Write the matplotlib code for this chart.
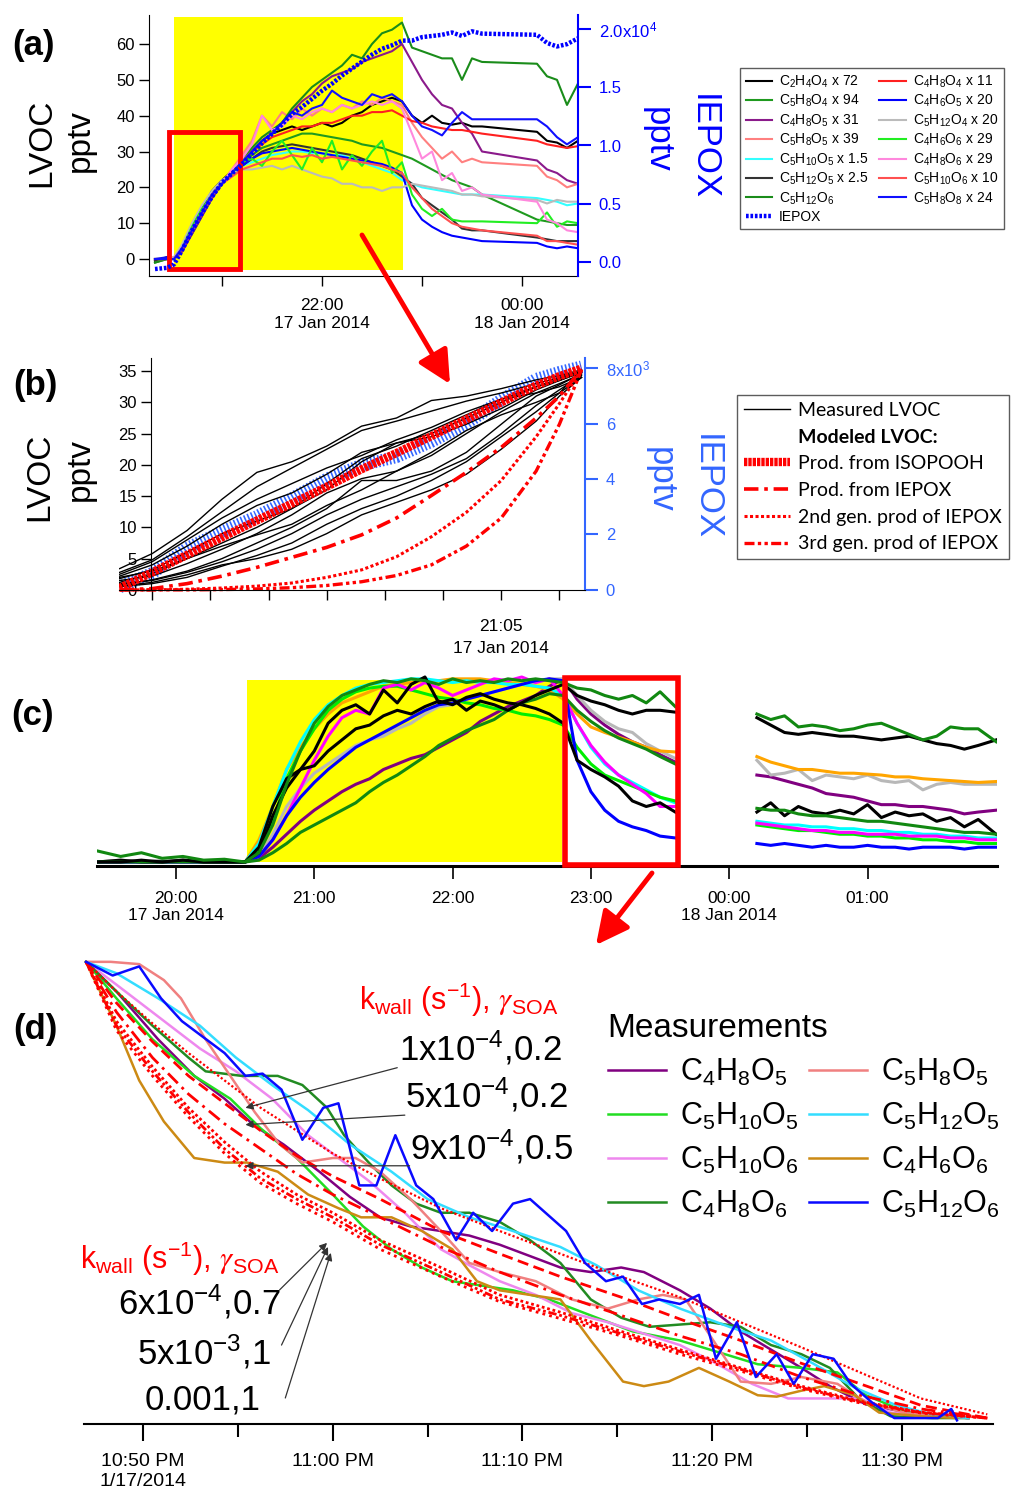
import matplotlib.pyplot as plt
from matplotlib.lines import Line2D
from matplotlib.patches import Rectangle, FancyArrowPatch

plt.rcParams['font.family'] = ['Liberation Sans', 'DejaVu Sans']
plt.rcParams['mathtext.default'] = 'regular'
plt.rcParams['mathtext.fontset'] = 'stix'

W, H = 1021, 1491

# ---------------- (a) full experiment, hours since 17 Jan 00:00 ----------------
t_a = [20.33, 20.45, 20.52, 20.6, 20.7, 20.8, 20.9, 21.0, 21.1, 21.2,
       21.3, 21.4, 21.5, 21.6, 21.7, 21.8, 21.9, 22.0, 22.1, 22.2, 22.3, 22.4,
       22.5, 22.6, 22.7, 22.8, 22.9, 23.0, 23.1, 23.2, 23.3, 23.4, 23.5, 23.6,
       24.15, 24.25, 24.35, 24.45, 24.56]
C2H4O4 = [-0.5, 0.5, 0, 3.5, 9, 14, 19, 22, 24.5, 27,
          30, 33, 35, 36, 37, 36, 37, 38, 37, 38, 40, 41, 43, 44, 45, 44, 40, 38, 40, 38, 37.5, 38, 37, 37,
          35.5, 33, 32.5, 31, 33]
C4H8O4 = [0, 0, 0.5, 3, 8, 13, 18, 21, 24, 27,
          30, 32, 34, 35, 36, 37, 37, 38, 38, 39, 40, 40, 41, 41, 41.5, 40, 38.5, 38, 37, 36.5, 36, 36, 35.5, 35,
          33, 32, 31.5, 31, 31.5]
C5H8O4 = [-1, 0, 0, 2.5, 7, 12, 17, 21, 24, 27,
          29, 31, 32, 33, 34, 35, 35, 34.5, 34, 33.5, 33, 32, 31.5, 31, 30, 29, 28, 26.5, 25, 23.5, 22, 21, 20, 18,
          11, 10.5, 10, 9.5, 9.5]
C4H6O5 = [0, 0.5, 0, 3, 8, 13, 18, 21, 24, 26,
          28, 29.5, 30, 30.5, 31, 30.5, 30, 29.5, 29, 28.5, 28, 27.5, 27, 26.5, 25.5, 24, 15, 11, 9, 7.5, 6.5, 6, 5.5, 5,
          4.5, 3.5, 3, 3.5, 3]
C4H8O5 = [0, 0, 0, 2, 7, 12, 17, 21, 24, 27,
          30, 33, 35, 38, 41, 44, 46, 49, 51, 52, 53, 55, 56, 57, 58, 60, 55, 50, 46, 43, 42, 38, 35, 30,
          27.5, 25, 24, 22, 21]
C5H12O4 = [0, 0, 0.5, 4, 10, 15, 19, 22, 24, 25,
           25, 25.5, 26, 25, 26, 25, 24, 23, 22.5, 21, 21, 20, 20, 19, 20, 20, 21, 20.5, 20, 19.5, 19, 18, 18, 17.5,
           16.5, 15.5, 16.5, 16, 16]
C5H8O5 = [0, 0, 0, 3, 8, 13, 18, 21, 25, 29,
          33, 40, 37, 41, 39, 42, 40, 42, 41, 43, 42, 44, 43, 45, 44, 43, 38, 34, 31, 28, 30, 27, 28, 27,
          26, 23, 22, 20, 21]
C4H6O6 = [0, 0, 0, 3, 9, 14, 18, 21, 24, 27,
          28, 26, 30, 33, 29, 25, 31, 27, 33, 25, 29, 26, 30, 33, 24, 27, 18, 14, 12, 14, 11, 10.5, 10.5, 10.5,
          10, 13, 9, 10.5, 10]
C5H10O5 = [0, 0, 0, 3, 8, 13, 18, 21, 24, 26,
           27, 28, 29, 29.5, 30, 30, 29.5, 29.5, 29, 29, 28, 27, 26, 25, 24, 22, 21, 20, 19.5, 19, 18.5, 18, 18, 18,
           17, 16.5, 16, 15, 15.5]
C4H8O6 = [0, 0, 0, 3, 8, 13, 18, 21, 25, 28,
          32, 40, 36, 37, 40, 39, 41, 42, 41, 43, 42, 43, 44, 43, 44, 42, 35, 28, 30, 22, 24, 19, 20, 18,
          16, 11, 10, 8, 7.5]
C5H12O5 = [0, 0, 0, 3, 9, 14, 18, 21, 24, 26,
           28, 30, 31, 31.5, 32, 31.5, 31, 30.5, 30, 29.5, 29, 28, 27, 26, 25, 23, 21, 17, 15, 13, 11, 8.5, 8, 8,
           6, 5.5, 5, 5, 5]
C5H10O6 = [0, 0, 0, 3, 8, 13, 18, 21, 23, 25,
           26, 27, 28, 28, 29, 28.5, 29, 28, 28.5, 28, 27.5, 27, 26.5, 26, 25, 24, 20, 17, 14, 12, 10, 9, 8.5, 8,
           6.5, 5, 5, 4.5, 4]
C5H12O6 = [-1, 0, 0, 3, 8, 13, 18, 21, 24, 28,
           31, 34, 36, 38, 42, 45, 48, 50, 52, 54, 57, 56, 60, 63, 64, 66, 59, 58, 57, 56, 56, 50, 56, 55,
           54.5, 51, 50, 43, 49]
C5H8O8 = [0, 0, 0, 3, 8, 13, 18, 21, 24, 27,
          30, 33, 35, 38, 41, 40, 42, 43, 47, 45, 44, 43, 46, 45, 46, 44, 40, 37, 36, 34.5, 38, 41, 39, 39,
          39, 37, 34, 32, 34]
iepox_a = [-0.06, -0.05, -0.02, 0.1, 0.27, 0.42, 0.56, 0.68, 0.76, 0.84,
           0.93, 1.02, 1.1, 1.18, 1.27, 1.33, 1.4, 1.47, 1.53, 1.6, 1.66, 1.72, 1.78, 1.83, 1.86, 1.9,
           1.9, 1.93, 1.94, 1.95, 1.97, 1.94, 1.98, 1.96, 1.95, 1.88, 1.85, 1.87, 1.92]

a_series = [
    ('C$_2$H$_4$O$_4$ x 72', C2H4O4, '#000000'),
    ('C$_5$H$_8$O$_4$ x 94', C5H8O4, '#1f9a1f'),
    ('C$_4$H$_8$O$_5$ x 31', C4H8O5, '#8b1a8b'),
    ('C$_5$H$_8$O$_5$ x 39', C5H8O5, '#ff8080'),
    ('C$_5$H$_{10}$O$_5$ x 1.5', C5H10O5, '#33ffff'),
    ('C$_5$H$_{12}$O$_5$ x 2.5', C5H12O5, '#333333'),
    ('C$_5$H$_{12}$O$_6$', C5H12O6, '#1a8c1a'),
    ('C$_4$H$_8$O$_4$ x 11', C4H8O4, '#ff2020'),
    ('C$_4$H$_6$O$_5$ x 20', C4H6O5, '#0000ff'),
    ('C$_5$H$_{12}$O$_4$ x 20', C5H12O4, '#bbbbbb'),
    ('C$_4$H$_6$O$_6$ x 29', C4H6O6, '#22ee22'),
    ('C$_4$H$_8$O$_6$ x 29', C4H8O6, '#ff88dd'),
    ('C$_5$H$_{10}$O$_6$ x 10', C5H10O6, '#ff5050'),
    ('C$_5$H$_8$O$_8$ x 24', C5H8O8, '#1010ff'),
]

# ---------------- (b) first minutes of the experiment, minutes after 20:00 ----------------
t_b = [32.2, 35, 38, 41, 44, 47, 50, 53, 56, 59, 62, 65, 68, 70, 71.9]
measured_b = [
    [3.4, 5.8, 9.5, 14.5, 18.8, 20.5, 23.0, 26.2, 27.5, 30.3, 31.0, 32.2, 33.6, 34.3, 35.2],
    [2.8, 4.8, 8.5, 12.5, 16.5, 19.5, 22.5, 25.5, 27.0, 28.6, 30.2, 31.5, 33.0, 34.0, 35.0],
    [2.2, 4.0, 7.0, 10.5, 13.5, 15.5, 18.5, 22.0, 23.5, 25.0, 27.5, 30.0, 32.5, 33.8, 35.0],
    [1.8, 3.2, 6.0, 9.0, 11.0, 13.0, 16.0, 20.5, 23.5, 24.5, 26.5, 29.0, 32.0, 33.5, 34.8],
    [1.2, 2.6, 5.0, 7.5, 10.0, 13.0, 17.0, 21.0, 23.0, 25.5, 28.0, 30.5, 32.5, 33.5, 34.8],
    [1.5, 2.2, 4.2, 6.5, 9.0, 12.0, 15.5, 17.8, 19.0, 21.5, 25.0, 28.5, 31.5, 33.0, 34.5],
    [0.8, 1.6, 3.0, 5.0, 7.5, 10.0, 13.0, 17.5, 17.5, 19.0, 22.0, 26.5, 31.0, 32.8, 34.6],
    [1.0, 1.5, 2.8, 4.5, 6.5, 9.0, 12.0, 14.5, 16.5, 18.5, 21.0, 25.0, 29.5, 32.0, 34.3],
    [0.5, 1.0, 2.0, 3.8, 5.5, 7.5, 10.5, 13.0, 15.0, 17.5, 20.5, 24.5, 28.5, 31.5, 34.0],
    [2.0, 3.0, 5.0, 7.0, 8.8, 10.5, 13.5, 16.0, 19.0, 22.0, 25.5, 28.0, 30.0, 31.5, 35.2],
    [0.6, 1.2, 2.4, 4.0, 5.0, 6.5, 9.0, 12.0, 14.0, 16.0, 18.5, 22.5, 27.0, 31.0, 34.0],
    [2.5, 4.5, 8.0, 11.5, 14.5, 17.0, 19.5, 21.5, 24.0, 26.0, 28.5, 30.5, 31.5, 32.5, 34.0],
]
iepox_b = [0.1, 0.6, 1.5, 2.1, 2.65, 3.3, 4.0, 4.5, 4.8, 5.35, 6.0, 6.85, 7.6, 7.85, 8.05]
mod_isopooh = [0.3, 2.8, 5.6, 8.4, 11.1, 13.8, 16.5, 19.3, 21.9, 24.6, 27.3, 30.0, 32.7, 34.2, 35.4]
mod_iepox = [0.0, 0.2, 1.0, 2.2, 3.6, 5.2, 6.8, 8.8, 11.5, 15.1, 18.8, 22.8, 27.5, 31.0, 35.3]
mod_gen2 = [0.0, 0.0, 0.1, 0.3, 0.6, 1.1, 2.0, 3.2, 5.3, 8.5, 12.4, 17.5, 24.5, 29.8, 35.2]
mod_gen3 = [0.0, 0.0, 0.0, 0.05, 0.15, 0.35, 0.7, 1.3, 2.3, 4.0, 7.0, 11.5, 19.0, 26.5, 35.2]

# ---------------- (c) normalised signals, hours ----------------
t_c1 = [19.43, 19.6, 19.75, 19.9, 20.05, 20.2, 20.35, 20.5,
        20.6, 20.7, 20.8, 20.9, 21.0, 21.1, 21.2, 21.3, 21.4, 21.5, 21.6, 21.7, 21.8, 21.9,
        22.0, 22.1, 22.2, 22.3, 22.4, 22.5, 22.6, 22.7, 22.8,
        22.9, 23.0, 23.1, 23.2, 23.3, 23.4, 23.5, 23.61]
t_c2 = [24.2, 24.3, 24.4, 24.5, 24.6, 24.7, 24.8, 24.9, 25.0, 25.1, 25.2, 25.3, 25.4,
        25.5, 25.6, 25.7, 25.8, 25.93]
c_green_hi = [0.06, 0.03, 0.05, 0.02, 0.03, 0.01, 0.015, 0.0,
              0.05, 0.2, 0.42, 0.6, 0.75, 0.84, 0.9, 0.93, 0.96, 0.98, 0.97, 0.99, 0.98, 0.96, 0.99, 0.97,
              0.98, 0.97, 0.99, 0.98, 0.99, 0.98, 0.97,
              0.94, 0.93, 0.9, 0.88, 0.9, 0.86, 0.92, 0.84]
c_green_hi2 = [0.80, 0.77, 0.79, 0.73, 0.74, 0.73, 0.71, 0.72, 0.74, 0.75, 0.72, 0.69, 0.66, 0.68, 0.73,
               0.72, 0.72, 0.65]
c_black_hi = [0.0, 0.0, 0.01, 0.0, 0.01, 0.0, 0.0, 0.0,
              0.08, 0.3, 0.45, 0.5, 0.6, 0.75, 0.82, 0.85, 0.8, 0.93, 0.86, 0.96, 1.0, 0.86, 0.88, 0.82,
              0.87, 0.85, 0.82, 0.86, 0.9, 0.93, 0.96,
              0.9, 0.87, 0.85, 0.82, 0.8, 0.82, 0.82, 0.81]
c_black_hi2 = [0.78, 0.74, 0.70, 0.69, 0.7, 0.69, 0.68, 0.68, 0.67, 0.66, 0.67, 0.68, 0.66, 0.64, 0.63,
               0.61, 0.63, 0.66]
c_orange = [0, 0, 0, 0, 0, 0, 0, 0,
            0.12, 0.3, 0.5, 0.62, 0.72, 0.8, 0.86, 0.89, 0.92, 0.95, 0.96, 0.97, 0.98, 0.98, 0.99, 0.99,
            0.99, 0.98, 0.97, 0.96, 0.95, 0.93, 0.88,
            0.8, 0.73, 0.7, 0.675, 0.65, 0.62, 0.6, 0.595]
c_orange2 = [0.57, 0.54, 0.52, 0.5, 0.5, 0.49, 0.48, 0.48, 0.475, 0.47, 0.46, 0.46, 0.45, 0.445, 0.44,
             0.435, 0.43, 0.435]
c_gray = [0.0, 0.01, 0.0, 0.01, 0.0, 0.0, 0.0, 0.0,
          0.03, 0.15, 0.3, 0.4, 0.48, 0.53, 0.58, 0.63, 0.66, 0.68, 0.72, 0.75, 0.8, 0.84, 0.85, 0.88,
          0.9, 0.92, 0.94, 0.96, 0.97, 0.99, 0.99,
          0.9, 0.82, 0.76, 0.72, 0.7, 0.64, 0.6, 0.56]
c_gray2 = [0.55, 0.47, 0.48, 0.5, 0.44, 0.47, 0.46, 0.45, 0.47, 0.44, 0.43, 0.44, 0.39, 0.42, 0.43,
           0.42, 0.42, 0.42]
c_purple = [0, 0, 0, 0, 0, 0, 0, 0,
            0.02, 0.08, 0.15, 0.22, 0.28, 0.33, 0.38, 0.42, 0.45, 0.5, 0.53, 0.56, 0.58, 0.62, 0.66, 0.7,
            0.76, 0.8, 0.84, 0.87, 0.9, 0.95, 0.99,
            0.88, 0.8, 0.74, 0.69, 0.65, 0.62, 0.58, 0.54]
c_purple2 = [0.47, 0.46, 0.44, 0.42, 0.4, 0.37, 0.36, 0.35, 0.33, 0.31, 0.31, 0.3, 0.3, 0.29, 0.28,
             0.26, 0.27, 0.28]
c_green_lo = [0, 0, 0, 0, 0, 0, 0, 0,
              0.01, 0.05, 0.1, 0.16, 0.2, 0.24, 0.28, 0.32, 0.38, 0.43, 0.47, 0.52, 0.57, 0.63, 0.67, 0.71,
              0.74, 0.77, 0.82, 0.86, 0.88, 0.91, 0.9,
              0.82, 0.76, 0.71, 0.67, 0.64, 0.61, 0.57, 0.53]
c_green_lo2 = [0.29, 0.28, 0.28, 0.26, 0.25, 0.25, 0.24, 0.23, 0.22, 0.22, 0.21, 0.2, 0.19, 0.18, 0.17,
               0.16, 0.16, 0.15]
c_cyan = [0, 0, 0, 0, 0, 0, 0, 0,
          0.1, 0.3, 0.5, 0.65, 0.77, 0.85, 0.9, 0.94, 0.96, 0.97, 0.98, 0.99, 0.99, 0.98, 0.97, 0.98,
          0.97, 0.97, 0.96, 0.96, 0.95, 0.94, 0.9,
          0.75, 0.62, 0.53, 0.47, 0.43, 0.39, 0.35, 0.32]
c_cyan2 = [0.22, 0.21, 0.2, 0.2, 0.19, 0.19, 0.18, 0.18, 0.17, 0.17, 0.16, 0.16, 0.15, 0.15, 0.14,
           0.14, 0.13, 0.13]
c_magenta = [0, 0, 0, 0, 0, 0, 0, 0,
             0.03, 0.12, 0.25, 0.4, 0.55, 0.68, 0.78, 0.82, 0.8, 0.94, 0.96, 0.93, 0.97, 0.94, 0.9, 0.93,
             0.96, 0.99, 0.98, 1.0, 0.97, 0.99, 0.9,
             0.75, 0.63, 0.54, 0.47, 0.42, 0.37, 0.3, 0.3]
c_magenta2 = [0.21, 0.2, 0.19, 0.18, 0.17, 0.17, 0.16, 0.16, 0.15, 0.15, 0.15, 0.14, 0.14, 0.14, 0.13,
              0.13, 0.12, 0.12]
c_lime = [0, 0, 0, 0, 0, 0, 0, 0,
          0.06, 0.22, 0.45, 0.6, 0.72, 0.82, 0.88, 0.92, 0.94, 0.95, 0.95, 0.93, 0.91, 0.89, 0.88, 0.86,
          0.85, 0.83, 0.82, 0.8, 0.79, 0.77, 0.74,
          0.62, 0.53, 0.47, 0.44, 0.41, 0.38, 0.35, 0.33]
c_lime2 = [0.2, 0.19, 0.18, 0.17, 0.17, 0.16, 0.15, 0.15, 0.14, 0.14, 0.13, 0.13, 0.12, 0.12, 0.11,
           0.11, 0.1, 0.1]
c_blue = [0, 0, 0, 0, 0, 0, 0, 0,
          0.03, 0.12, 0.25, 0.35, 0.43, 0.5, 0.56, 0.62, 0.66, 0.7, 0.74, 0.78, 0.82, 0.85, 0.86, 0.88,
          0.9, 0.92, 0.94, 0.96, 0.98, 0.99, 0.98,
          0.55, 0.38, 0.28, 0.22, 0.19, 0.17, 0.14, 0.13]
c_blue2 = [0.1, 0.09, 0.1, 0.09, 0.08, 0.09, 0.08, 0.08, 0.09, 0.08, 0.08, 0.07, 0.08, 0.08, 0.08,
           0.07, 0.08, 0.08]
c_black_lo = [0.0, 0.01, 0.0, 0.0, 0.01, 0.0, 0.0, 0.0,
              0.05, 0.25, 0.4, 0.5, 0.52, 0.6, 0.66, 0.72, 0.74, 0.79, 0.82, 0.8, 0.84, 0.87, 0.85, 0.89,
              0.91, 0.88, 0.86, 0.85, 0.83, 0.8, 0.75,
              0.55, 0.5, 0.46, 0.41, 0.33, 0.3, 0.32, 0.27]
c_black_lo2 = [0.27, 0.32, 0.25, 0.3, 0.27, 0.26, 0.28, 0.26, 0.31, 0.24, 0.27, 0.25, 0.26, 0.22, 0.24,
               0.19, 0.23, 0.15]

c_series = [
    (c_purple, c_purple2, '#800080'), (c_gray, c_gray2, '#b8b8b8'), (c_orange, c_orange2, '#ffa500'),
    (c_cyan, c_cyan2, '#00ffff'), (c_lime, c_lime2, '#00ee00'), (c_magenta, c_magenta2, '#ff00ff'),
    (c_blue, c_blue2, '#0000ff'), (c_black_lo, c_black_lo2, '#000000'), (c_green_lo, c_green_lo2, '#118811'),
    (c_black_hi, c_black_hi2, '#000000'), (c_green_hi, c_green_hi2, '#118811'),
]

# ---------------- (d) decay after lights off, minutes after 22:50 ----------------
d_t_C4H8O5 = [-3, -1.4, 0.8, 2.7, 4.3, 5.9, 7.4, 9.3, 10.9, 12.5, 14.1, 15.7, 17.2, 18.8, 20.4, 22.0, 23.6,
              25.2, 26.4, 28.3, 29.9, 31.5, 33.1, 34.7, 36.2, 38.1, 40.3, 43.5]
d_v_C4H8O5 = [1.0, 0.935, 0.83, 0.75, 0.70, 0.64, 0.60, 0.54, 0.485, 0.44, 0.42, 0.41, 0.40, 0.38, 0.355,
              0.33, 0.32, 0.33, 0.32, 0.28, 0.24, 0.19, 0.15, 0.11, 0.07, 0.03, 0.012, 0.0]
d_t_C5H10O5 = [-3, -1.4, 0.5, 2.7, 4.6, 6.2, 8.1, 10.0, 11.6, 13.1, 14.7, 16.3, 17.9, 19.5, 21.4, 23.6, 25.8,
               28.3, 30.2, 32.4, 34.7, 36.6, 38.1, 40.3, 43.5]
d_v_C5H10O5 = [1.0, 0.92, 0.83, 0.75, 0.70, 0.635, 0.57, 0.49, 0.42, 0.37, 0.33, 0.30, 0.29, 0.28, 0.26,
               0.225, 0.19, 0.17, 0.146, 0.118, 0.11, 0.10, 0.05, 0.012, 0.0]
d_t_C5H10O6 = [-3, -1.4, 0.8, 3.0, 4.9, 6.8, 8.7, 10.3, 11.9, 13.8, 15.7, 17.2, 18.8, 20.7, 22.6, 24.5, 26.4,
               28.3, 30.2, 32.1, 34.0, 35.9, 37.8, 39.4, 43.5]
d_v_C5H10O6 = [1.0, 0.95, 0.88, 0.81, 0.76, 0.70, 0.62, 0.57, 0.52, 0.45, 0.37, 0.335, 0.30, 0.27, 0.23,
               0.21, 0.185, 0.16, 0.12, 0.075, 0.043, 0.043, 0.043, 0.012, 0.0]
d_t_C4H8O6 = [-3, -1.4, 0.5, 2.4, 3.3, 5.2, 7.1, 8.4, 9.7, 10.6, 11.9, 13.1, 14.4, 15.7, 17.2, 18.8, 20.4,
              22.0, 23.6, 25.2, 26.7, 28.3, 29.9, 31.5, 33.1, 34.7, 36.2, 37.8, 39.4, 41.6, 43.5]
d_v_C4H8O6 = [1.0, 0.935, 0.86, 0.79, 0.76, 0.75, 0.75, 0.73, 0.68, 0.62, 0.56, 0.51, 0.47, 0.45, 0.45,
              0.43, 0.39, 0.34, 0.26, 0.22, 0.20, 0.205, 0.21, 0.20, 0.16, 0.14, 0.11, 0.04, 0.004, 0.0, 0.0]
d_t_C5H8O5 = [-3, -1.7, -0.2, 1.1, 2.0, 3.3, 4.6, 5.9, 7.2, 8.4, 10.0, 11.2, 12.5, 14.1, 15.7, 17.2, 18.8,
              20.7, 22.6, 24.5, 26.1, 27.4, 28.6, 29.9, 31.5, 33.1, 34.7, 36.6, 38.1, 40.3, 43.5]
d_v_C5H8O5 = [1.0, 1.0, 0.995, 0.96, 0.92, 0.83, 0.75, 0.67, 0.60, 0.56, 0.57, 0.57, 0.54, 0.48, 0.41,
              0.34, 0.32, 0.30, 0.26, 0.24, 0.26, 0.27, 0.26, 0.18, 0.08, 0.075, 0.09, 0.075, 0.035, 0.01, 0.0]
d_t_C5H12O5 = [-3, -1.4, 0.8, 3.0, 4.9, 6.8, 8.7, 10.9, 13.1, 15.0, 17.2, 19.5, 22.0, 23.9, 26.1, 28.3,
               30.9, 33.1, 35.3, 37.5, 39.7, 41.6, 43.5]
d_v_C5H12O5 = [1.0, 0.975, 0.92, 0.86, 0.79, 0.73, 0.675, 0.60, 0.54, 0.48, 0.44, 0.41, 0.375, 0.335,
               0.28, 0.24, 0.20, 0.17, 0.12, 0.067, 0.028, 0.008, 0.0]
d_t_C4H6O6 = [-3, -1.4, -0.2, 1.1, 2.7, 4.3, 5.5, 7.1, 8.7, 10.3, 11.5, 13.1, 14.7, 16.3, 17.6, 18.8, 20.4,
              22.0, 23.6, 25.3, 26.4, 27.7, 29.3, 30.9, 32.4, 33.4, 34.7, 35.9, 37.5, 38.8, 41.0, 42.9]
d_v_C4H6O6 = [1.0, 0.86, 0.74, 0.65, 0.57, 0.56, 0.56, 0.54, 0.49, 0.46, 0.44, 0.44, 0.41, 0.37, 0.30,
              0.28, 0.27, 0.26, 0.17, 0.08, 0.07, 0.08, 0.11, 0.08, 0.05, 0.047, 0.06, 0.07, 0.05, 0.012,
              0.004, 0.0]
d_t_C5H12O6 = [-3.0, -1.6, -0.2, 0.95, 2.05, 4.3, 5.4, 6.3, 7.3, 8.4, 9.5, 10.3, 11.4, 12.3, 13.3, 14.4,
               15.3, 16.5, 17.4, 18.4, 19.5, 20.4, 22.3, 23.3, 24.4, 25.3, 26.3, 27.2, 28.3, 29.3, 30.2,
               31.3, 32.3, 33.4, 34.3, 35.3, 36.4, 37.3, 38.4, 39.6, 41.9, 42.6, 42.9]
d_v_C5H12O6 = [1.0, 0.97, 0.99, 0.92, 0.87, 0.80, 0.75, 0.755, 0.72, 0.61, 0.68, 0.69, 0.51, 0.51, 0.62,
               0.51, 0.48, 0.39, 0.45, 0.41, 0.47, 0.48, 0.41, 0.34, 0.30, 0.31, 0.25, 0.26, 0.25, 0.27,
               0.13, 0.21, 0.09, 0.14, 0.075, 0.14, 0.13, 0.075, 0.035, 0.0, 0.0, 0.02, -0.005]

d_series = {
    'C$_4$H$_8$O$_5$': (d_t_C4H8O5, d_v_C4H8O5, '#800080'),
    'C$_5$H$_{10}$O$_5$': (d_t_C5H10O5, d_v_C5H10O5, '#22dd22'),
    'C$_5$H$_{10}$O$_6$': (d_t_C5H10O6, d_v_C5H10O6, '#ee88ee'),
    'C$_4$H$_8$O$_6$': (d_t_C4H8O6, d_v_C4H8O6, '#228b22'),
    'C$_5$H$_8$O$_5$': (d_t_C5H8O5, d_v_C5H8O5, '#f08080'),
    'C$_5$H$_{12}$O$_5$': (d_t_C5H12O5, d_v_C5H12O5, '#33ddff'),
    'C$_4$H$_6$O$_6$': (d_t_C4H6O6, d_v_C4H6O6, '#cc8a14'),
    'C$_5$H$_{12}$O$_6$': (d_t_C5H12O6, d_v_C5H12O6, '#0a0aff'),
}

# wall-loss model runs (k_wall, gamma_SOA)
t_mod = [-3.0, -1.4, 0.5, 2.4, 4.3, 6.2, 8.1, 10.0, 12.5, 15.7, 18.8, 22.0, 25.2, 28.3, 31.5, 34.7, 37.8,
         41.0, 44.5]
m_1e4_02 = [1.0, 0.935, 0.865, 0.80, 0.74, 0.68, 0.63, 0.58, 0.525, 0.46, 0.41, 0.36, 0.31, 0.265, 0.21,
            0.155, 0.10, 0.043, 0.008]
m_5e4_02 = [1.0, 0.91, 0.825, 0.75, 0.69, 0.63, 0.575, 0.53, 0.48, 0.41, 0.36, 0.31, 0.265, 0.217, 0.17,
            0.12, 0.075, 0.028, 0.0]
m_9e4_05 = [1.0, 0.89, 0.79, 0.71, 0.645, 0.59, 0.535, 0.49, 0.44, 0.375, 0.32, 0.27, 0.225, 0.18, 0.14,
            0.09, 0.05, 0.02, 0.0]
m_6e4_07 = [1.0, 0.87, 0.77, 0.68, 0.605, 0.54, 0.49, 0.45, 0.39, 0.33, 0.27, 0.232, 0.19, 0.15, 0.11,
            0.07, 0.037, 0.013, 0.0]
m_5e3_1 = [1.0, 0.86, 0.76, 0.67, 0.59, 0.525, 0.48, 0.44, 0.38, 0.32, 0.26, 0.225, 0.185, 0.146, 0.107,
           0.067, 0.035, 0.012, 0.0]
m_001_1 = [1.0, 0.85, 0.75, 0.66, 0.58, 0.515, 0.47, 0.43, 0.37, 0.31, 0.255, 0.218, 0.18, 0.14, 0.103,
           0.064, 0.033, 0.011, 0.0]
model_runs = [
    (m_1e4_02, (0, (1, 1)), 1.6), (m_5e4_02, (0, (4, 2)), 2.0), (m_9e4_05, (0, (5, 2, 1, 2)), 2.0),
    (m_6e4_07, (0, (1, 1)), 2.0), (m_5e3_1, (0, (3, 1, 1, 1, 1, 1)), 2.0), (m_001_1, (0, (1, 1.5)), 2.0),
]


def box(l, t, r, b):
    return [l / W, 1 - b / H, (r - l) / W, (b - t) / H]


fig = plt.figure(figsize=(W / 100, H / 100), dpi=100)


def ftext(x, y, s, **kw):
    fig.text(x / W, 1 - y / H, s, ha='center', va='center', **kw)


def big_arrow(x0, y0, x1, y1):
    fig.add_artist(FancyArrowPatch((x0 / W, 1 - y0 / H), (x1 / W, 1 - y1 / H), transform=fig.transFigure,
                                   arrowstyle='-|>,head_length=20,head_width=10', mutation_scale=1,
                                   color='#ff0000', lw=3.5, shrinkA=0, shrinkB=0))


BLUE = '#0000ff'

# ---------------- panel (a) ----------------
ax_a = fig.add_axes(box(149, 15, 578, 276))
ax_a.set_xlim(20.27, 24.56)
ax_a.set_ylim(-4.74, 68.1)
ax_a.fill_between([20.52, 22.81], -3.1, 67.5, color='#ffff00', lw=0, zorder=0)
a_handles = []
for label, vals, col in a_series:
    ln, = ax_a.plot(t_a, vals, color=col, lw=1.5, label=label)
    a_handles.append(ln)
for s in ['top', 'right']:
    ax_a.spines[s].set_visible(False)
ax_a.set_yticks(range(0, 61, 10))
ax_a.set_xticks([21, 22, 23, 24])
ax_a.set_xticklabels(['', '22:00\n17 Jan 2014', '', '00:00\n18 Jan 2014'])
ax_a.tick_params(axis='y', length=7, width=1, labelsize=12, pad=3)
ax_a.tick_params(axis='x', length=7, width=1, labelsize=12.5, pad=9)

ax_ar = ax_a.twinx()
ax_ar.set_ylim(-0.12, 2.12)
iep_a, = ax_ar.plot(t_a, iepox_a, color=BLUE, lw=3.2, ls=(0, (0.6, 0.4)), label='IEPOX')
for s in ['top', 'left', 'bottom']:
    ax_ar.spines[s].set_visible(False)
ax_ar.spines['right'].set_color(BLUE)
ax_ar.spines['right'].set_linewidth(1.5)
ax_ar.set_yticks([0, 0.5, 1.0, 1.5, 2.0])
ax_ar.set_yticklabels(['0.0', '0.5', '1.0', '1.5', '2.0x10$^{4}$'])
ax_ar.tick_params(axis='y', colors=BLUE, length=9, width=1.5, labelsize=12, pad=6)
ax_ar.add_patch(Rectangle((20.47, -2.8), 0.71, 38.2, transform=ax_a.transData, fill=False,
                          ec='#ff0000', lw=3.5, clip_on=False))

fig.legend(a_handles[:7] + [iep_a] + a_handles[7:], [h.get_label() for h in a_handles[:7]] + ['IEPOX'] +
           [h.get_label() for h in a_handles[7:]], loc='upper left', bbox_to_anchor=(740 / W, 1 - 68 / H),
           ncol=2, fontsize=10, frameon=True, fancybox=False, edgecolor='#333333', handlelength=1.9,
           handletextpad=0.5, columnspacing=0.8, labelspacing=0.22, borderpad=0.4, borderaxespad=0)

ftext(33, 45, '(a)', fontsize=25, fontweight='bold')
ftext(42, 143, 'LVOC', rotation=90, fontsize=24)
ftext(80, 140, 'pptv', rotation=90, fontsize=24)
ftext(703, 147, 'IEPOX', rotation=-90, fontsize=25, color=BLUE)
ftext(657, 140, 'pptv', rotation=-90, fontsize=25, color=BLUE)

# ---------------- panel (b) ----------------
BLUE_B = '#3366ff'
ax_b = fig.add_axes(box(119, 358, 585, 593))
ax_b.set_xlim(32.15, 72.2)
ax_b.set_ylim(-0.5, 37.1)
black_b = None
for vals in measured_b:
    ln, = ax_b.plot(t_b, vals, color='black', lw=1.0)
    black_b = black_b or ln
iso_ln, = ax_b.plot(t_b, mod_isopooh, color='#ff0000', lw=6, ls=(0, (0.4, 0.12)))
iep_ln, = ax_b.plot(t_b, mod_iepox, color='#ff0000', lw=2.6, ls=(0, (4, 1.6, 1, 1.6)))
g2_ln, = ax_b.plot(t_b, mod_gen2, color='#ff0000', lw=2.2, ls=(0, (1, 0.8)))
g3_ln, = ax_b.plot(t_b, mod_gen3, color='#ff0000', lw=2.4, ls=(0, (3, 1, 1, 1, 1, 1)))
ax_b.spines['left'].set_position(('data', 34.9))
ax_b.spines['left'].set_bounds(0, 37.1)
ax_b.spines['bottom'].set_position(('data', 0))
for s in ['top', 'right']:
    ax_b.spines[s].set_visible(False)
ax_b.set_yticks(range(0, 36, 5))
ax_b.set_xticks(range(35, 71, 5))
ax_b.set_xticklabels(['', '', '', '', '', '', '21:05\n17 Jan 2014', ''], linespacing=1.55)
ax_b.tick_params(axis='y', length=7, width=1, labelsize=12, pad=3)
ax_b.tick_params(axis='x', length=7, width=1, labelsize=12.5, pad=14)

ax_br = ax_b.twinx()
ax_br.set_ylim(-0.113, 8.365)
ax_br.plot(t_b, iepox_b, color=BLUE_B, lw=9, ls=(0, (0.13, 0.17)))
ax_br.set_zorder(ax_b.get_zorder() - 1)
ax_b.patch.set_visible(False)
for s in ['top', 'left', 'bottom']:
    ax_br.spines[s].set_visible(False)
ax_br.spines['right'].set_color(BLUE_B)
ax_br.spines['right'].set_linewidth(1.5)
ax_br.spines['right'].set_bounds(0, 8.365)
ax_br.set_yticks([0, 2, 4, 6, 8])
ax_br.set_yticklabels(['0', '2', '4', '6', '8x10$^{3}$'])
ax_br.tick_params(axis='y', colors=BLUE_B, length=9, width=1.5, labelsize=12, pad=6)

blank = Line2D([], [], color='none')
leg_b = ax_b.legend([black_b, blank, iso_ln, iep_ln, g2_ln, g3_ln],
                    ['Measured LVOC', 'Modeled LVOC:', 'Prod. from ISOPOOH', 'Prod. from IEPOX',
                     '2nd gen. prod of IEPOX', '3rd gen. prod of IEPOX'],
                    loc='upper left', bbox_to_anchor=(737 / W, 1 - 395 / H), bbox_transform=fig.transFigure,
                    prop={'family': ['Lato', 'DejaVu Sans'], 'size': 14}, frameon=True, fancybox=False,
                    edgecolor='#333333', handlelength=2.4, handletextpad=0.4, labelspacing=0.5,
                    borderpad=0.35, borderaxespad=0)
leg_b.get_texts()[1].set_fontweight('bold')

ftext(35, 385, '(b)', fontsize=25, fontweight='bold')
ftext(40, 477, 'LVOC', rotation=90, fontsize=24)
ftext(80, 470, 'pptv', rotation=90, fontsize=24)
ftext(706, 487, 'IEPOX', rotation=-90, fontsize=25, color=BLUE_B)
ftext(660, 480, 'pptv', rotation=-90, fontsize=25, color=BLUE_B)

# ---------------- panel (c) ----------------
ax_c = fig.add_axes(box(97, 672, 997, 866))
ax_c.set_xlim(19.429, 25.936)
ax_c.set_ylim(-0.0216, 1.027)
ax_c.fill_between([20.515, 22.79], 0, 0.984, color='#ffff00', lw=0, zorder=0)
for v1, v2, col in c_series:
    ax_c.plot(t_c1, v1, color=col, lw=2.2)
    ax_c.plot(t_c2, v2, color=col, lw=2.2)
ax_c.add_patch(Rectangle((22.81, -0.016), 0.82, 1.011, fill=False, ec='#ff0000', lw=4, clip_on=False, zorder=5))
for s in ['top', 'right', 'left']:
    ax_c.spines[s].set_visible(False)
ax_c.spines['bottom'].set_linewidth(2.2)
ax_c.set_yticks([])
ax_c.set_xticks([20, 21, 22, 23, 24, 25])
ax_c.set_xticklabels(['20:00\n17 Jan 2014', '21:00', '22:00', '23:00', '00:00\n18 Jan 2014', '01:00'])
ax_c.tick_params(axis='x', length=9, width=1.2, labelsize=12.5, pad=9)
ftext(33, 715, '(c)', fontsize=25, fontweight='bold')

# ---------------- panel (d) ----------------
ax_d = fig.add_axes(box(84, 955, 993, 1424))
ax_d.set_xlim(-3.11, 44.8)
ax_d.set_ylim(-0.013, 1.015)
for vals, ls, lw in model_runs:
    ax_d.plot(t_mod, vals, color='#ff0000', lw=lw, ls=ls, zorder=2.5)
d_handles = {}
for name, (tt, vv, col) in d_series.items():
    ln, = ax_d.plot(tt, vv, color=col, lw=1.8, zorder=3 if 'O$_6$' in name and '12' in name else 2)
    d_handles[name] = ln
for s in ['top', 'right', 'left']:
    ax_d.spines[s].set_visible(False)
ax_d.spines['bottom'].set_linewidth(1.5)
ax_d.set_yticks([])
ax_d.set_xticks([0, 10, 20, 30, 40])
ax_d.set_xticks([5, 15, 25, 35], minor=True)
ax_d.set_xticklabels(['10:50 PM\n1/17/2014', '11:00 PM', '11:10 PM', '11:20 PM', '11:30 PM'])
ax_d.tick_params(axis='x', which='major', length=12, width=1.5, labelsize=14, pad=9)
ax_d.tick_params(axis='x', which='minor', length=9, width=1.5)

names_d = list(d_series.keys())
ax_d.legend([d_handles[n] for n in names_d], names_d, ncol=2, loc='upper left',
            bbox_to_anchor=(0.556, 0.915), frameon=False, fontsize=22, title='Measurements',
            title_fontsize=24, alignment='left', handlelength=1.9, handletextpad=0.45,
            columnspacing=0.35, labelspacing=0.42, borderpad=0.1)

kw_lab = 'k$_{wall}$ (s$^{-1}$), $\\mathit{\\gamma}_{SOA}$'
ax_d.text(11.4, 0.917, kw_lab, color='#ff0000', fontsize=22, va='center')
ax_d.text(-3.3, 0.35, kw_lab, color='#ff0000', fontsize=22, va='center')
upper_runs = [('1x10$^{-4}$,0.2', 13.5, 0.81), ('5x10$^{-4}$,0.2', 13.8, 0.708), ('9x10$^{-4}$,0.5', 14.05, 0.594)]
lower_runs = [('6x10$^{-4}$,0.7', -1.3, 0.254), ('5x10$^{-3}$,1', -0.3, 0.145), ('0.001,1', 0.1, 0.04)]
for s, x, y in upper_runs + lower_runs:
    ax_d.text(x, y, s, fontsize=25, va='center')
pointers = [((13.4, 0.768), (5.4, 0.68)), ((13.8, 0.664), (5.4, 0.643)), ((14.05, 0.553), (5.4, 0.553)),
            ((7.2, 0.281), (9.7, 0.384)), ((7.3, 0.16), (9.75, 0.375)), ((7.5, 0.044), (9.9, 0.362))]
for src, dst in pointers:
    ax_d.annotate('', xy=dst, xytext=src, annotation_clip=False,
                  arrowprops=dict(arrowstyle='-|>', color='#333333', lw=0.9, mutation_scale=11,
                                  shrinkA=0, shrinkB=0))
ftext(35, 1030, '(d)', fontsize=25, fontweight='bold')

big_arrow(362, 235, 450, 384)
big_arrow(652, 873, 596, 945)

fig.savefig('out.png', dpi=100)
